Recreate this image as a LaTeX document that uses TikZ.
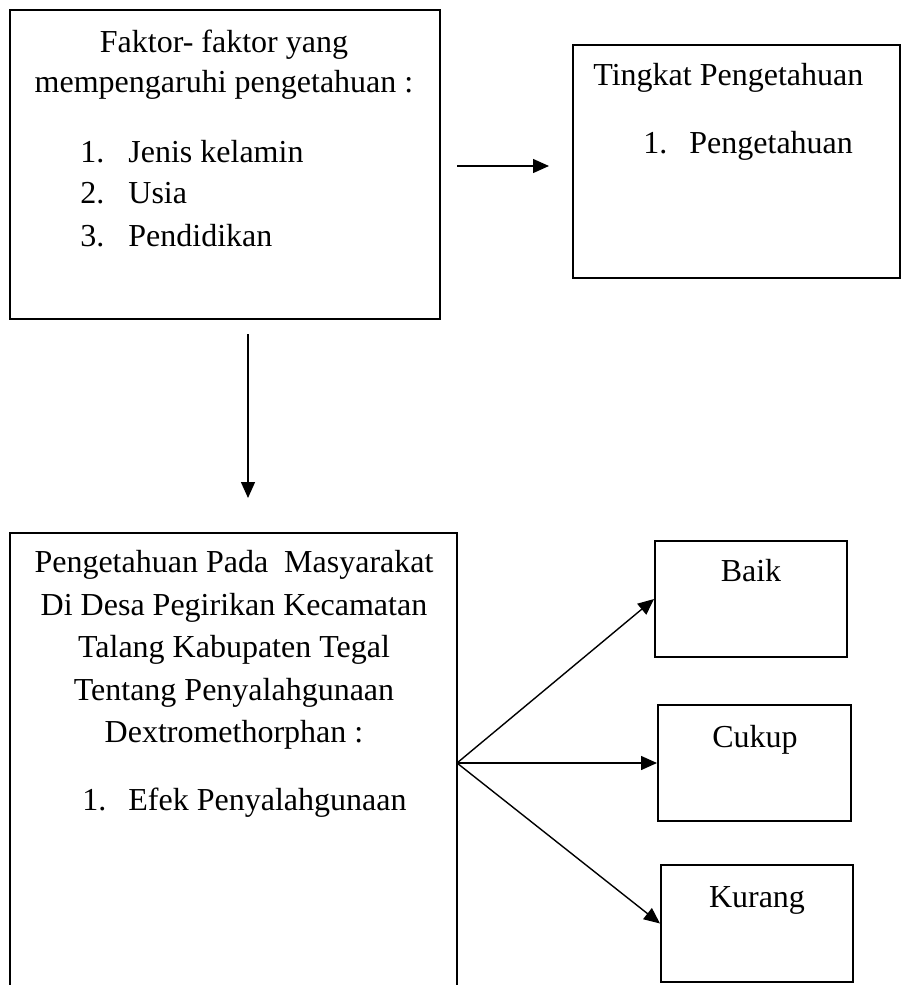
\documentclass[tikz,border=0pt]{standalone}
\usepackage{fontspec}
\setmainfont{Liberation Serif}
\usetikzlibrary{arrows.meta}
\begin{document}
\begin{tikzpicture}[x=0.5pt,y=-0.5pt,
  box/.style={draw,line width=1pt,inner sep=0pt,rectangle},
  txt/.style={anchor=base,inner sep=0pt,font=\fontsize{16}{19}\selectfont},
  ltxt/.style={anchor=base west,inner sep=0pt,font=\fontsize{16}{19}\selectfont},
  arr/.style={line width=0.7pt,-{Triangle[length=8pt,width=7pt]}}]
\useasboundingbox (0,0) rectangle (902,985);
\clip (0,0) rectangle (902,985);
% boxes
\node[box,minimum width=215pt,minimum height=154.5pt] (faktor) at (225,164.5) {};
\node[box,minimum width=163.5pt,minimum height=116.5pt] (tingkat) at (736.5,161.5) {};
\node[box,minimum width=223.5pt,minimum height=238.5pt] (peng) at (233.5,771.5) {};
\node[box,minimum width=96pt,minimum height=58pt] (baik) at (751,599) {};
\node[box,minimum width=96.5pt,minimum height=58pt] (cukup) at (754.5,763) {};
\node[box,minimum width=96pt,minimum height=58.5pt] (kurang) at (757,923.5) {};
% texts box 1
\node[txt] (f1) at (224,52) {Faktor- faktor yang};
\node[txt] (f2) at (224,92) {mempengaruhi pengetahuan :};
\node[ltxt] (f3n) at (80,162) {1.};
\node[ltxt] (f3) at (128,162) {Jenis kelamin};
\node[ltxt] (f4n) at (80,203) {2.};
\node[ltxt] (f4) at (128,203) {Usia};
\node[ltxt] (f5n) at (80,246) {3.};
\node[ltxt] (f5) at (128,246) {Pendidikan};
% texts box 2
\node[ltxt] (t1) at (593,85) {Tingkat Pengetahuan};
\node[ltxt] (t2n) at (643,153) {1.};
\node[ltxt] (t2) at (689,153) {Pengetahuan};
% texts box 3
\node[txt] (p1) at (234,572) {Pengetahuan Pada\ \ Masyarakat};
\node[txt] (p2) at (234,615) {Di Desa Pegirikan Kecamatan};
\node[txt] (p3) at (234,657) {Talang Kabupaten Tegal};
\node[txt] (p4) at (234,700) {Tentang Penyalahgunaan};
\node[txt] (p5) at (234,742) {Dextromethorphan :};
\node[ltxt] (p6n) at (82,810) {1.};
\node[ltxt] (p6) at (128,810) {Efek Penyalahgunaan};
% outcome texts
\node[txt] (b1) at (751,581) {Baik};
\node[txt] (c1) at (755,747) {Cukup};
\node[txt] (k1) at (757,907) {Kurang};
% connectors
\coordinate (h1) at (457,166);
\coordinate (h2) at (549,166);
\coordinate (v1) at (248,334);
\coordinate (v2) at (248,498);
\coordinate (fan) at (457,763);
\draw[arr] (h1) -- (h2);
\draw[arr] (v1) -- (v2);
\draw[arr] (fan) -- (baik.west);
\draw[arr] (fan) -- (cukup.west);
\draw[arr] (fan) -- (kurang.west);
\end{tikzpicture}
\end{document}
